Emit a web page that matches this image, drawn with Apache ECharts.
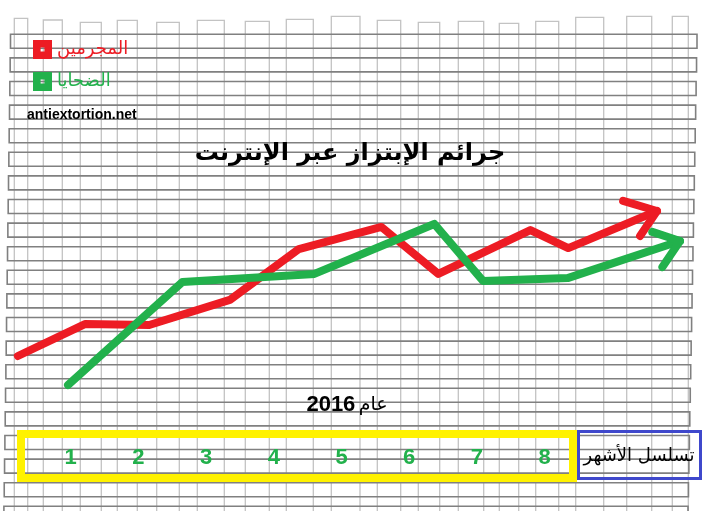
<!DOCTYPE html>
<html>
<head>
<meta charset="utf-8">
<style>html,body{margin:0;padding:0;background:#fff;}#c{width:720px;height:511px;}</style>
<script src="https://cdn.jsdelivr.net/npm/echarts@6/dist/echarts.min.js"></script>
</head>
<body>
<div id="c"></div>
<script>
// ---- data ----
const monthLabels = ['1','2','3','4','5','6','7','8'];
const seriesNames = ['المجرمين', 'الضحايا'];
const offendersLine = [[0.22,17.9],[1.21,34.7],[2.16,34.2],[3.35,47.4],[4.37,74.2],[5.59,85.8],[6.43,61.1],[7.79,84.2],[8.35,74.7],[9.66,94.2]];
const offendersArrow = [[9.16,99.5],[9.66,94.2],[9.41,81.1]];
const victimsLine = [[0.96,2.6],[2.65,56.8],[4.60,61.1],[6.37,87.4],[7.09,57.4],[8.34,58.9],[10.0,78.4]];
const victimsArrow = [[9.59,83.2],[10.0,78.4],[9.74,64.7]];
const titleText = 'جرائم الإبتزاز عبر الإنترنت';
const siteText = 'antiextortion.net';
const yearWord = 'عام';
const yearNum = '2016';
const axisTitle = 'تسلسل الأشهر';

// ---- decorative notebook background ----
const columnPairs = [[14.3,27.7,18.3],[43.3,62.3,20],[80.3,101.3,22.3],[117.3,137.3,20.3],[156.7,179.3,22.3],[197.3,224.3,20.3],[245.3,269.3,21.3],[286.3,313.3,19.3],[331.3,360,16.3],[377.3,400.7,20.3],[418.3,439.7,22.3],[458.3,483.7,21.3],[499.3,518.7,23.3],[535.7,558.7,21.3],[575.7,603.7,17.3],[626.7,651.7,16.3],[672.3,688.3,16.3]];
const bg = [];
columnPairs.forEach(function(p){
  bg.push({type:'rect', silent:true, z:-10, shape:{x:p[0], y:p[2], width:p[1]-p[0], height:520-p[2]}, style:{fill:'none', stroke:'#c3c3c3', lineWidth:1.3}});
});
for (let i = 0; i < 21; i++) {
  const top = 34.3 + 23.6 * i;
  const left = 10.5 - i * 0.33;
  const right = 697 - i * 0.45;
  bg.push({type:'rect', silent:true, z:-9, shape:{x:left, y:top, width:right-left, height:14}, style:{fill:'none', stroke:'#808080', lineWidth:1.6}});
}

const RED = '#ed1c24', GREEN = '#22b14c';
const boxIcon = 'path://M0,0 L10,0 L10,10 L0,10 Z M4,4 L4,6 L6,6 L6,4 Z';

const chart = echarts.init(document.getElementById('c'), null, {renderer:'canvas'});
chart.setOption({
  animation: false,
  title: {
    text: titleText,
    left: 345, top: 137, textAlign: 'center',
    textStyle: {fontFamily:'DejaVu Sans', fontWeight:'bold', fontSize:24, color:'#000'}
  },
  legend: {
    orient: 'vertical', left: 28, top: 35, itemWidth: 19, itemHeight: 19, itemGap: 13,
    icon: boxIcon,
    data: [
      {name: seriesNames[0], textStyle:{color:RED}},
      {name: seriesNames[1], textStyle:{color:GREEN}}
    ],
    textStyle: {fontFamily:'DejaVu Sans', fontSize:18}
  },
  grid: {left: 0, right: 40, top: 200, bottom: 121},
  xAxis: {
    type: 'value', min: 0, max: 10, interval: 1,
    axisLine: {show:false}, axisTick: {show:false}, splitLine: {show:false},
    axisLabel: {
      margin: 57, color: GREEN, fontWeight: 'bold', fontSize: 22, fontFamily: 'Liberation Sans',
      formatter: function(v){ const i = Math.round(v) - 1; return (i >= 0 && i < monthLabels.length) ? monthLabels[i] : ''; }
    }
  },
  yAxis: {type:'value', min:0, max:100, show:false},
  series: [
    {name: seriesNames[0], type:'line', data: offendersLine, symbol:'none', clip:false, color:RED, z:3,
     lineStyle:{width:8, color:RED, cap:'round', join:'round'}},
    {name: seriesNames[0], type:'line', data: offendersArrow, symbol:'none', clip:false, color:RED, z:3,
     lineStyle:{width:8, color:RED, cap:'round', join:'round'}},
    {name: seriesNames[1], type:'line', data: victimsLine, symbol:'none', clip:false, color:GREEN, z:4,
     lineStyle:{width:8, color:GREEN, cap:'round', join:'round'}},
    {name: seriesNames[1], type:'line', data: victimsArrow, symbol:'none', clip:false, color:GREEN, z:4,
     lineStyle:{width:8, color:GREEN, cap:'round', join:'round'}}
  ],
  graphic: bg.concat([
    {type:'text', z:5, style:{x:27, y:115, text: siteText, verticalAlign:'middle', font:'bold 14px "Liberation Sans"', fill:'#000'}},
    {type:'text', z:5, style:{x:347, y:405, text: '{n|' + yearNum + '} {a|' + yearWord + '}', align:'center', verticalAlign:'middle',
      rich:{n:{font:'bold 22px "Liberation Sans"', fill:'#000'}, a:{font:'19px "DejaVu Sans"', fill:'#000'}}}},
    {type:'rect', z:1, shape:{x:21, y:434, width:552, height:44}, style:{fill:'none', stroke:'#fff200', lineWidth:8}},
    {type:'rect', z:1, shape:{x:578.5, y:431.5, width:122, height:47}, style:{fill:'none', stroke:'#3f48cc', lineWidth:3}},
    {type:'text', z:5, style:{x:639, y:456, text: axisTitle, align:'center', verticalAlign:'middle', font:'18px "DejaVu Sans"', fill:'#000'}}
  ])
});
</script>
</body>
</html>
